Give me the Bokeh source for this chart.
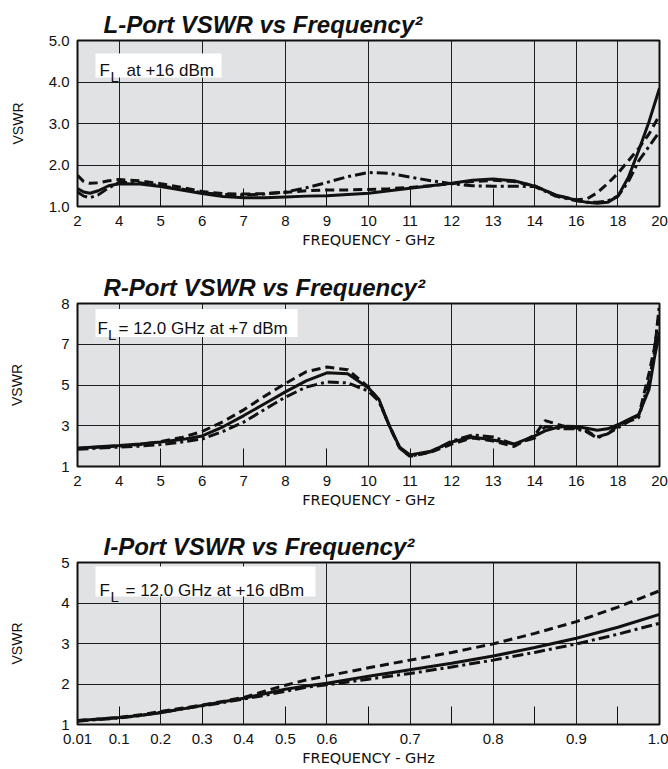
import numpy as np
from bokeh.plotting import figure
from bokeh.layouts import column
from bokeh.models import FixedTicker, Label, BoxAnnotation
from bokeh.embed import file_html
from bokeh.resources import INLINE

# ---------------- data ----------------
# L-Port chart
L_TICKS_GHZ = [2, 4, 5, 6, 7, 8, 9, 10, 11, 12, 13, 14, 16, 18, 20]
L_TICK_LABELS = ["2", "4", "5", "6", "7", "8", "9", "10", "11", "12", "13", "14", "16", "18", "20"]
L_GRID_GHZ = [4, 6, 8, 10, 12, 14, 16, 18]
L_MINOR_GHZ = [5, 7, 9, 11, 13]
L_Y_TICKS = [1, 2, 3, 4, 5]
L_Y_LABELS = ["1.0", "2.0", "3.0", "4.0", "5.0"]
L_Y_GRID = [2, 3, 4]

L_FREQ = [2, 2.3, 2.6, 3.0, 3.5, 4, 4.5, 5, 5.5, 6, 6.5, 7, 7.5, 8, 8.5, 9, 9.5, 10, 10.5, 11,
          11.5, 12, 12.5, 13, 13.5, 14, 15, 16, 16.5, 17, 17.5, 18, 18.5, 19, 19.5, 20]
L_SOLID = [1.43, 1.35, 1.32, 1.38, 1.50, 1.55, 1.54, 1.48, 1.40, 1.31, 1.24, 1.21, 1.21, 1.23, 1.25, 1.26,
           1.29, 1.32, 1.38, 1.44, 1.50, 1.56, 1.63, 1.66, 1.62, 1.49, 1.28, 1.15, 1.10, 1.08, 1.10, 1.25,
           1.70, 2.35, 3.05, 3.85]
L_DASH = [1.75, 1.60, 1.56, 1.57, 1.62, 1.65, 1.62, 1.55, 1.46, 1.36, 1.31, 1.30, 1.31, 1.34, 1.38, 1.40,
          1.40, 1.41, 1.43, 1.46, 1.50, 1.55, 1.60, 1.63, 1.60, 1.50, 1.27, 1.16, 1.18, 1.33, 1.55, 1.80,
          2.10, 2.40, 2.75, 3.20]
L_DASHDOT = [1.35, 1.25, 1.21, 1.28, 1.45, 1.58, 1.57, 1.50, 1.42, 1.33, 1.29, 1.28, 1.30, 1.35, 1.45, 1.58,
             1.72, 1.82, 1.80, 1.71, 1.62, 1.55, 1.50, 1.49, 1.49, 1.48, 1.25, 1.14, 1.10, 1.10, 1.13, 1.25,
             1.60, 2.10, 2.45, 2.80]

# R-Port chart
R_TICKS_GHZ = L_TICKS_GHZ
R_TICK_LABELS = L_TICK_LABELS
R_GRID_GHZ = [4, 6, 8, 10, 12, 14, 16, 18]
R_MINOR_GHZ = [5, 7, 9, 11, 13]
R_Y_TICKS = [1, 3, 5, 7, 8]
R_Y_LABELS = ["1", "3", "5", "7", "8"]
R_Y_GRID = [3, 5, 7]

R_FREQ = [2, 3, 4, 4.5, 5, 5.5, 6, 6.5, 7, 7.5, 8, 8.5, 9, 9.5, 10, 10.25, 10.5, 10.75, 11, 11.5,
          12, 12.5, 13, 13.5, 14, 14.5, 15, 15.5, 16, 16.5, 17, 17.5, 18, 18.5, 19, 19.5, 19.75, 20]
R_SOLID = [1.90, 1.97, 2.03, 2.10, 2.20, 2.32, 2.50, 2.95, 3.50, 4.08, 4.66, 5.20, 5.60, 5.55, 4.85, 4.30,
           3.00, 1.95, 1.57, 1.75, 2.20, 2.45, 2.30, 2.10, 2.50, 2.75, 2.90, 2.97, 2.96, 2.88, 2.78, 2.85,
           3.05, 3.30, 3.55, 4.80, 6.30, 7.30]
R_DASH = [1.90, 1.95, 2.00, 2.08, 2.22, 2.42, 2.72, 3.20, 3.78, 4.45, 5.07, 5.65, 5.88, 5.75, 4.90, 4.25,
          3.00, 1.90, 1.50, 1.70, 2.10, 2.40, 2.25, 1.98, 2.55, 3.25, 3.10, 2.95, 2.90, 2.75, 2.45, 2.60,
          3.00, 3.25, 3.50, 5.60, 6.80, 7.80]
R_DASHDOT = [1.85, 1.90, 1.95, 2.00, 2.08, 2.20, 2.35, 2.72, 3.18, 3.80, 4.40, 4.90, 5.15, 5.10, 4.70, 4.20,
             3.00, 1.90, 1.50, 1.72, 2.25, 2.55, 2.45, 2.10, 2.40, 2.95, 2.88, 2.85, 2.85, 2.70, 2.40, 2.60,
             2.90, 3.20, 3.40, 5.20, 6.60, 8.00]

# I-Port chart
I_TICKS_GHZ = [0.01, 0.1, 0.2, 0.3, 0.4, 0.5, 0.6, 0.7, 0.8, 0.9, 1.0]
I_TICK_POS = [0, 1, 2, 3, 4, 5, 6, 8, 10, 12, 14]
I_TICK_LABELS = ["0.01", "0.1", "0.2", "0.3", "0.4", "0.5", "0.6", "0.7", "0.8", "0.9", "1.0"]
I_GRID_GHZ = [0.2, 0.4, 0.6, 0.7, 0.8, 0.9]
I_MINOR_GHZ = [0.1, 0.3, 0.5, 0.65, 0.75, 0.85, 0.95]
I_Y_TICKS = [1, 2, 3, 4, 5]
I_Y_LABELS = ["1", "2", "3", "4", "5"]
I_Y_GRID = [2, 3, 4]

I_FREQ = [0.01, 0.05, 0.1, 0.15, 0.2, 0.25, 0.3, 0.35, 0.4, 0.45, 0.5, 0.55, 0.6, 0.65, 0.7, 0.75,
          0.8, 0.85, 0.9, 0.95, 1.0]
I_SOLID = [1.09, 1.13, 1.17, 1.22, 1.29, 1.38, 1.47, 1.56, 1.65, 1.76, 1.87, 1.95, 2.02, 2.19, 2.35,
           2.51, 2.69, 2.90, 3.13, 3.40, 3.72]
I_DASH = [1.10, 1.13, 1.17, 1.24, 1.32, 1.40, 1.48, 1.57, 1.67, 1.82, 1.97, 2.10, 2.20, 2.40, 2.59,
          2.78, 2.99, 3.25, 3.54, 3.90, 4.30]
I_DASHDOT = [1.08, 1.12, 1.16, 1.22, 1.30, 1.38, 1.46, 1.54, 1.63, 1.72, 1.82, 1.92, 1.98, 2.12, 2.26,
             2.42, 2.59, 2.78, 2.99, 3.23, 3.50]

# ---------------- styling / layout ----------------
FONT = "Liberation Sans"
AXIS_FONT = "DejaVu Sans"
INK = "#111111"
BG = "#e1e2e4"
GRID = "#1e1e1e"
WIDTH = 668
B_LEFT, B_RIGHT = 77, 9
FRAME_W = WIDTH - B_LEFT - B_RIGHT


def make_chart(title, height, top, frame_h, tick_vals, tick_pos, tick_labels, grid_vals, minor_vals,
               y_tick_vals, y_tick_pos, y_labels, y_grid_vals, series, y_label_standoff, legend):
    fx = lambda v: np.interp(v, tick_vals, tick_pos)
    fy = lambda v: np.interp(v, y_tick_vals, y_tick_pos)
    x0, x1 = tick_pos[0], tick_pos[-1]
    y0, y1 = y_tick_pos[0], y_tick_pos[-1]
    p = figure(width=WIDTH, height=height, x_range=(x0, x1), y_range=(y0, y1),
               output_backend="svg", toolbar_location=None,
               min_border_left=B_LEFT, min_border_right=B_RIGHT, min_border_top=top,
               min_border_bottom=height - top - frame_h)
    p.background_fill_color = BG
    p.border_fill_color = "white"
    p.outline_line_color = INK
    p.outline_line_width = 2

    p.title.text = title
    p.title.text_font = FONT
    p.title.text_font_style = "bold italic"
    p.title.text_font_size = "24px"
    p.title.text_color = INK
    p.title.align = "left"
    p.title.offset = 26
    p.title.standoff = 6

    # x axis
    xa = p.xaxis[0]
    xa.ticker = FixedTicker(ticks=list(tick_pos), minor_ticks=list(fx(minor_vals)))
    xa.major_label_overrides = {int(tp): lb for tp, lb in zip(tick_pos, tick_labels)}
    xa.axis_line_color = None
    xa.major_tick_line_color = None
    xa.major_tick_in = 0
    xa.major_tick_out = 0
    xa.minor_tick_in = 18
    xa.minor_tick_out = 0
    xa.minor_tick_line_color = INK
    xa.minor_tick_line_width = 1
    xa.major_label_text_font = FONT
    xa.major_label_text_font_size = "15px"
    xa.major_label_text_color = INK
    xa.major_label_standoff = 9
    xa.axis_label = "FREQUENCY - GHz"
    xa.axis_label_text_font = AXIS_FONT
    xa.axis_label_text_font_style = "normal"
    xa.axis_label_text_font_size = "14.5px"
    xa.axis_label_text_color = INK
    xa.axis_label_standoff = 3

    # y axis
    ya = p.yaxis[0]
    ya.ticker = FixedTicker(ticks=list(y_tick_pos))
    ya.major_label_overrides = {int(tp): lb for tp, lb in zip(y_tick_pos, y_labels)}
    ya.axis_line_color = None
    ya.major_tick_line_color = None
    ya.major_tick_in = 0
    ya.major_tick_out = 0
    ya.minor_tick_line_color = None
    ya.major_label_text_font = FONT
    ya.major_label_text_font_size = "15px"
    ya.major_label_text_color = INK
    ya.major_label_standoff = 8
    ya.axis_label = "VSWR"
    ya.axis_label_text_font = FONT
    ya.axis_label_text_font_style = "normal"
    ya.axis_label_text_font_size = "14px"
    ya.axis_label_text_color = INK
    ya.axis_label_standoff = y_label_standoff

    # grids
    p.xgrid.ticker = FixedTicker(ticks=list(fx(grid_vals)))
    p.ygrid.ticker = FixedTicker(ticks=list(fy(y_grid_vals)))
    for g in (p.xgrid[0], p.ygrid[0]):
        g.grid_line_color = GRID
        g.grid_line_width = 1
        g.grid_line_alpha = 1.0

    # legend-like annotation box (positions given in pixels from the frame's top-left)
    def px2x(dx):
        return x0 + dx / FRAME_W * (x1 - x0)

    def px2y(dy):
        return y1 - dy / frame_h * (y1 - y0)

    (bx0, bx1, by0, by1), parts = legend
    p.add_layout(BoxAnnotation(left=px2x(bx0), right=px2x(bx1), top=px2y(by0), bottom=px2y(by1),
                               fill_color="white", fill_alpha=1.0, line_color=None, level="overlay"))
    for txt, dx, dy, size in parts:
        p.add_layout(Label(x=px2x(dx), y=px2y(dy), text=txt, text_font=FONT, text_font_size=size,
                           text_color=INK, text_align="left", text_baseline="alphabetic",
                           level="overlay"))

    # curves
    freq, solid, dash, dashdot = series
    xs = fx(freq)
    p.line(xs, fy(dashdot), line_color=INK, line_width=3, line_dash="11 4 3 4")
    p.line(xs, fy(dash), line_color=INK, line_width=3, line_dash="9 5")
    p.line(xs, fy(solid), line_color=INK, line_width=3)
    return p


p1 = make_chart("L-Port VSWR vs Frequency\u00b2", 267, 40, 166,
                L_TICKS_GHZ, list(range(len(L_TICKS_GHZ))), L_TICK_LABELS, L_GRID_GHZ, L_MINOR_GHZ,
                L_Y_TICKS, L_Y_TICKS, L_Y_LABELS, L_Y_GRID,
                (L_FREQ, L_SOLID, L_DASH, L_DASHDOT), 20,
                ((18, 144, 13, 37), [("F", 22, 29.5, "17px"), ("L", 33, 35.5, "15px"),
                                     ("at +16 dBm", 49, 29.5, "17px")]))

p2 = make_chart("R-Port VSWR vs Frequency\u00b2", 259, 36, 163,
                R_TICKS_GHZ, list(range(len(R_TICKS_GHZ))), R_TICK_LABELS, R_GRID_GHZ, R_MINOR_GHZ,
                R_Y_TICKS, [0, 1, 2, 3, 4], R_Y_LABELS, R_Y_GRID,
                (R_FREQ, R_SOLID, R_DASH, R_DASHDOT), 33,
                ((18, 220, 5.5, 33.5), [("F", 20, 25, "17px"), ("L", 30.5, 31, "15px"),
                                        ("= 12.0 GHz at +7 dBm", 41, 25, "17px")]))

p3 = make_chart("I-Port VSWR vs Frequency\u00b2", 243, 36, 162,
                I_TICKS_GHZ, I_TICK_POS, I_TICK_LABELS, I_GRID_GHZ, I_MINOR_GHZ,
                I_Y_TICKS, I_Y_TICKS, I_Y_LABELS, I_Y_GRID,
                (I_FREQ, I_SOLID, I_DASH, I_DASHDOT), 33,
                ((18, 238, 4, 34), [("F", 22, 28, "17px"), ("L", 33, 33.5, "15px"),
                                    ("= 12.0 GHz at +16 dBm", 48, 28, "17px")]))

layout = column(p1, p2, p3, spacing=0)
open("out.html", "w").write(file_html(layout, INLINE))
